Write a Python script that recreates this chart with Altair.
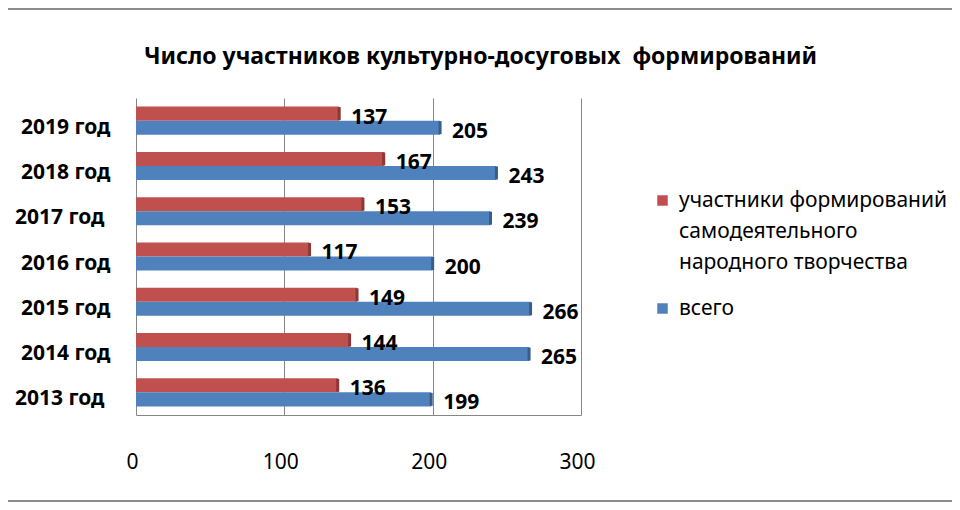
import altair as alt
import pandas as pd

years = ["2019 год", "2018 год", "2017 год", "2016 год", "2015 год", "2014 год", "2013 год"]
participants = [137, 167, 153, 117, 149, 144, 136]
total = [205, 243, 239, 200, 266, 265, 199]
series = ["участники формирований\nсамодеятельного\nнародного творчества", "всего"]
colors = ["#C0504D", "#4F81BD"]
edge_colors = ["#8C3836", "#385D8A"]
x_ticks = [0, 100, 200, 300]
title_text = "Число участников культурно-досуговых\u00a0 формирований"

rows = []
for yr, p, t in zip(years, participants, total):
    rows.append({"year": yr, "series": series[0], "value": p})
    rows.append({"year": yr, "series": series[1], "value": t})
df = pd.DataFrame(rows)

FONT = "Noto Sans"

y_enc = alt.Y(
    "year:N", sort=years,
    scale=alt.Scale(paddingInner=0.38, paddingOuter=0.19),
    axis=alt.Axis(title=None, labelFont=FONT, labelFontSize=21, labelFontWeight="bold",
                  labelColor="black", ticks=False, domain=False,
                  labelPadding={"condition": {"test": "datum.label == '2017 год' || datum.label == '2013 год'",
                                              "value": 32}, "value": 26},
                  labelOffset=7, grid=False),
)
yoff = alt.YOffset("series:N", sort=series, scale=alt.Scale(domain=series, paddingInner=0, paddingOuter=0))
x_enc = alt.X(
    "value:Q",
    scale=alt.Scale(domain=[0, 300], nice=False),
    axis=alt.Axis(values=x_ticks, title=None, grid=True, gridColor="#868686", gridWidth=1,
                  ticks=False, domain=True, domainColor="#868686", labelPadding=36,
                  labelFlush=False, labelOffset=-4,
                  labelFont=FONT, labelFontSize=21, labelColor="black", format="d"),
)
color = alt.Color(
    "series:N", sort=series,
    scale=alt.Scale(domain=series, range=colors),
    legend=alt.Legend(title=None, orient="none", legendX=516, legendY=92,
                      symbolType="square", symbolSize=110, symbolStrokeWidth=0,
                      labelFont=FONT, labelFontSize=21, labelColor="black",
                      labelExpr="split(datum.label, '\\n')", labelOffset=6,
                      rowPadding=24, labelLimit=400),
)

bars = alt.Chart(df).mark_bar(opacity=1).encode(x=x_enc, y=y_enc, yOffset=yoff, color=color)

edges = alt.Chart(df).mark_tick(orient="vertical", thickness=3, size=13, opacity=1).encode(
    x="value:Q", y=alt.Y("year:N", sort=years), yOffset=alt.YOffset("series:N", sort=series),
    color=alt.Color("series:N", scale=alt.Scale(domain=series, range=edge_colors), legend=None),
)

labels = alt.Chart(df).mark_text(
    align="left", baseline="middle", dx=12, dy=4, font=FONT, fontSize=21,
    fontWeight="bold", color="black",
).encode(x="value:Q", y=alt.Y("year:N", sort=years), yOffset=alt.YOffset("series:N", sort=series), text="value:Q")

frame_df = pd.DataFrame({"k": [0]})
top_line = alt.Chart(frame_df).mark_rule(color="#8c8c8c", strokeWidth=2).encode(
    x=alt.value(-140), x2=alt.value(830), y=alt.value(-89))
bottom_line = alt.Chart(frame_df).mark_rule(color="#8c8c8c", strokeWidth=2).encode(
    x=alt.value(-140), x2=alt.value(830), y=alt.value(403))

chart = alt.layer(bars, edges, labels, top_line, bottom_line).resolve_scale(color="independent").properties(
    width=445, height=317,
    padding={"left": 128, "top": 90, "right": 371, "bottom": 87},
    autosize="none",
    title=alt.TitleParams(text=title_text, font=FONT, fontSize=23, fontWeight="bold",
                          color="black", anchor="middle", dx=122, offset=0, dy=61,
                          frame="group"),
).configure(
    font=FONT,
    style={"guide-label": {"lineHeight": 31}},
).configure_view(stroke=None)

chart.save("out.html", embed_options={"renderer": "svg", "actions": False})
